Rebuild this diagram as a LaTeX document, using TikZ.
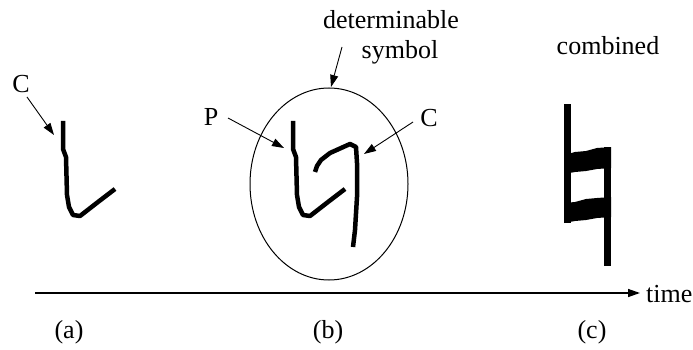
\documentclass[tikz,border=0pt]{standalone}
\usepackage{fontspec}
\setmainfont{Liberation Serif}
\usetikzlibrary{arrows.meta,shapes.geometric}
\tikzset{
  lbl/.style={inner sep=0pt, anchor=base, font=\fontsize{26}{30}\selectfont},
  arr/.style={line width=0.9pt, -{Triangle[length=12pt,width=8pt]}},
  ink/.style={line width=4.5pt, line join=round, line cap=butt},
  blob/.style={fill=black, draw=none},
}
\begin{document}
\begin{tikzpicture}[x=1pt,y=-1pt]
\useasboundingbox (0,0) rectangle (693,350);
% labels
\node[lbl] (Ca) at (21,93) {C};
\node[lbl] (P) at (211,125) {P};
\node[lbl] (Cb) at (429,127) {C};
\node[lbl] (det) at (391,29) {determinable};
\node[lbl] (sym) at (400,59) {symbol};
\node[lbl] (comb) at (608,55) {combined};
\node[lbl] (la) at (69,338) {(a)};
\node[lbl] (lb) at (328,338) {(b)};
\node[lbl] (lc) at (592,338) {(c)};
\node[lbl, anchor=base west] (time) at (646,302) {time};
% ellipse
\node[draw, ellipse, line width=1pt, inner sep=0pt, minimum width=158pt, minimum height=192pt] (ell) at (329,184) {};
% time axis
\coordinate (ax0) at (35,293);
\coordinate (ax1) at (640,293);
\draw[arr, line width=1.4pt] (ax0) -- (ax1);
% arrows
\coordinate (CaS) at (27,97);  \coordinate (CaT) at (54,135);
\draw[arr] (CaS) -- (CaT);
\coordinate (PS) at (228,118); \coordinate (PT) at (284,148);
\draw[arr] (PS) -- (PT);
\coordinate (CbS) at (413,122); \coordinate (CbT) at (364,154);
\draw[arr] (CbS) -- (CbT);
\coordinate (detS) at (342,47); \coordinate (detT) at (331,87);
\draw[arr] (detS) -- (detT);
% stroke (a)
\draw[ink] (63,121) -- (63,149) -- (66,157) -- (67,195) -- (69,207) -- (73,215) -- (80,216) -- (98,202) -- (115,189);
% stroke P in (b)
\draw[ink] (293,121) -- (293,149) -- (296,157) -- (297,195) -- (299,207) -- (303,215) -- (310,216) -- (328,202) -- (345,189);
% stroke C in (b)
\draw[ink] (315,172) -- (317,166) -- (321,160) -- (330,153) -- (350,144) -- (356,147) -- (357,163) -- (357,197) -- (355,230) -- (353,247);
% combined (c)
\fill[blob] (564,104) rectangle (570.5,223);
\fill[blob] (603.5,147) rectangle (611,266);
\fill[blob] (564,155) -- (575,152) -- (586,151) -- (597,148) -- (611,147) -- (611,168) -- (597,169) -- (586,171) -- (575,172) -- (564,174) -- cycle;
\fill[blob] (564,203) -- (575,202) -- (586,199) -- (597,198) -- (611,197) -- (611,217) -- (597,218) -- (586,220) -- (575,221) -- (564,223) -- cycle;
\end{tikzpicture}
\end{document}
